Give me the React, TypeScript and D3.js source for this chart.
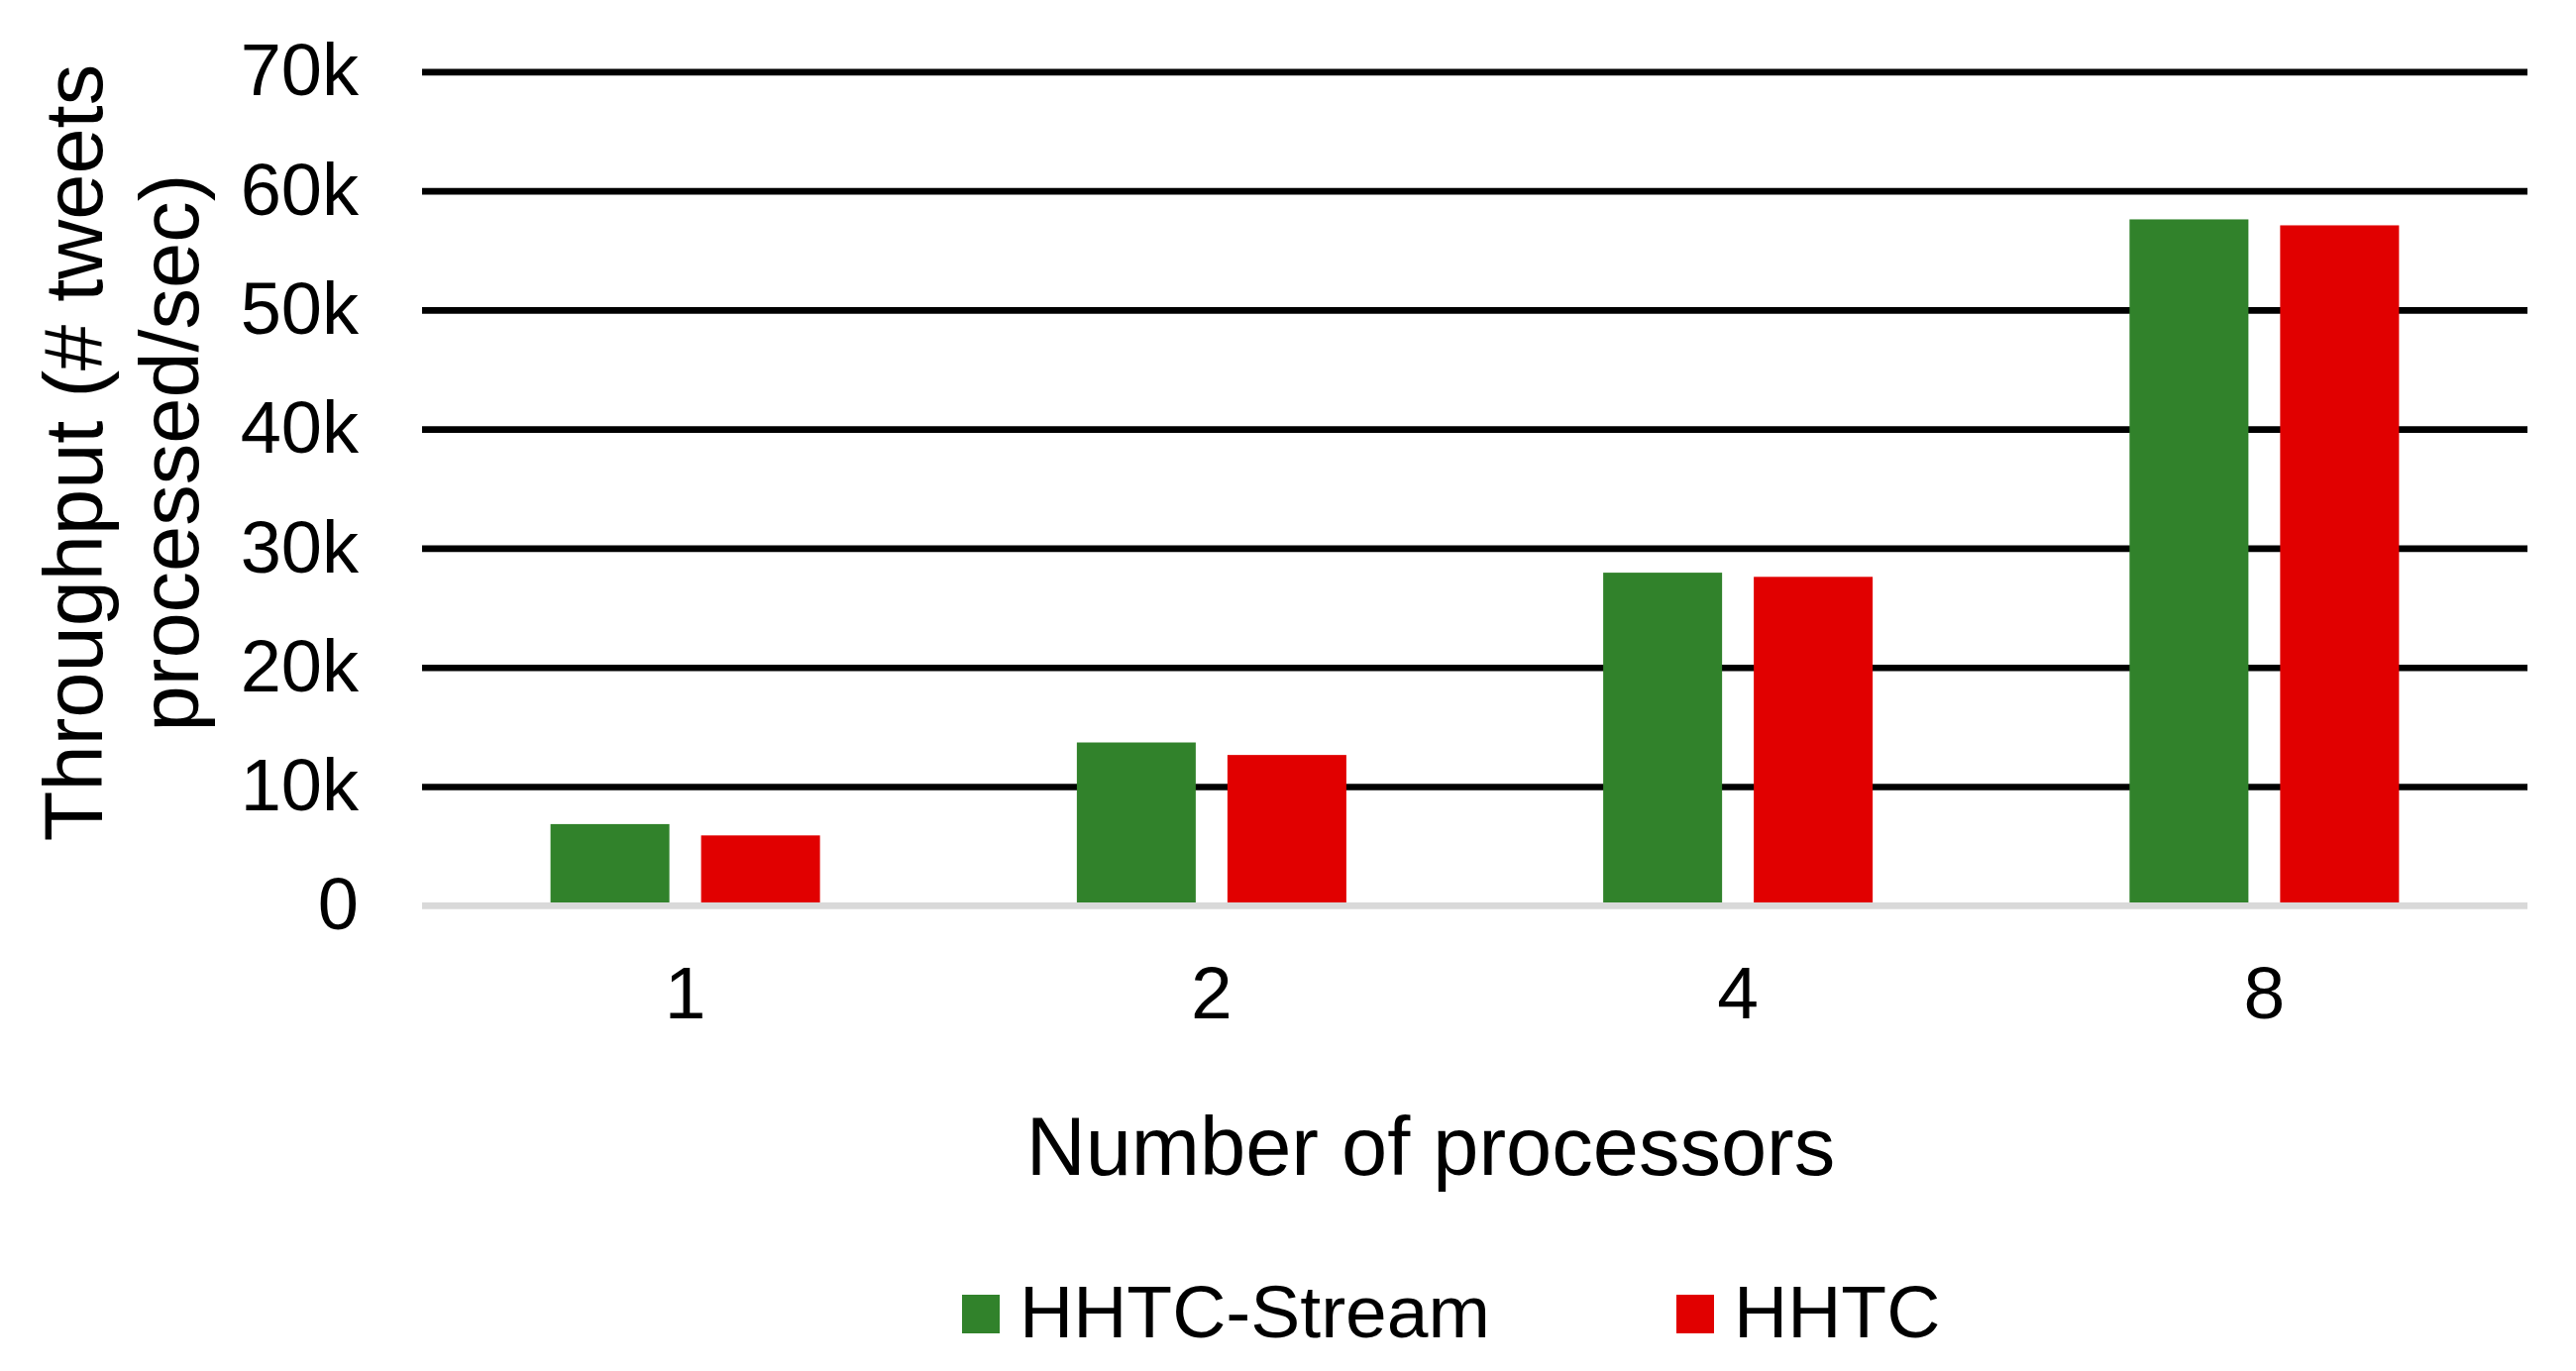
import React, { useEffect, useRef } from 'react';
import * as d3 from 'd3';

const categories = ["1", "2", "4", "8"];
const seriesNames = ["HHTC-Stream", "HHTC"];
const streamValues = [6850, 13700, 27950, 57600];
const hhtcValues = [5900, 12650, 27600, 57100];
const yTicks = [0, 10000, 20000, 30000, 40000, 50000, 60000, 70000];
const colors = ["#31822b", "#e10000"];

export default function App() {
  const svgRef = useRef<SVGSVGElement>(null);

  useEffect(() => {
    if (!svgRef.current) return;
    const width = 2600;
    const height = 1384;
    const margin = { left: 426, right: 49, top: 72.3, bottom: 469.7 };
    const font = "'Liberation Sans', Arial, sans-serif";

    const svg = d3.select(svgRef.current);
    svg.selectAll("*").remove();
    svg.attr("viewBox", [0, 0, width, height]).style("font-family", font);

    const innerW = width - margin.left - margin.right;
    const innerH = height - margin.top - margin.bottom;

    const x0 = d3.scaleBand<string>().domain(categories).range([0, innerW]).padding(0);
    const pairW = 272 / 531.25 * x0.bandwidth();
    const x1 = d3.scaleBand<string>().domain(seriesNames).range([0, pairW]).paddingInner(32 / 152);
    const y = d3.scaleLinear().domain([0, 70000]).range([innerH, 0]);

    const g = svg.append("g").attr("transform", `translate(${margin.left},${margin.top})`);

    // gridlines + tick labels
    const yAxis = g.append("g")
      .call(d3.axisLeft(y)
        .tickValues(yTicks)
        .tickSize(-innerW)
        .tickPadding(64)
        .tickFormat((d: any) => d === 0 ? "0" : `${d / 1000}k`));
    yAxis.select(".domain").remove();
    yAxis.selectAll(".tick line")
      .attr("stroke", "#000")
      .attr("stroke-width", 6.7)
      .attr("opacity", (d: any) => d === 0 ? 0 : 1);
    yAxis.selectAll(".tick text")
      .attr("fill", "#000")
      .attr("font-size", 74)
      .attr("font-family", font);

    // bars
    const rows = categories.map((c, i) => ({ cat: c, vals: [streamValues[i], hhtcValues[i]] }));
    const groups = g.selectAll("g.grp")
      .data(rows)
      .enter()
      .append("g")
      .attr("class", "grp")
      .attr("transform", (d) => `translate(${(x0(d.cat) || 0) + (x0.bandwidth() - pairW) / 2},0)`);

    groups.selectAll("rect")
      .data((d) => d.vals.map((v, j) => ({ name: seriesNames[j], v, j })))
      .enter()
      .append("rect")
      .attr("x", (d) => x1(d.name) || 0)
      .attr("width", x1.bandwidth())
      .attr("y", (d) => y(d.v))
      .attr("height", (d) => innerH - y(d.v))
      .attr("fill", (d) => colors[d.j]);

    // baseline on top of bars
    g.append("line")
      .attr("x1", 0)
      .attr("x2", innerW)
      .attr("y1", y(0))
      .attr("y2", y(0))
      .attr("stroke", "#d9d9d9")
      .attr("stroke-width", 6.7);

    // category axis
    const xAxis = g.append("g")
      .attr("transform", `translate(0,${innerH})`)
      .call(d3.axisBottom(x0).tickSize(0).tickPadding(60.5));
    xAxis.select(".domain").remove();
    xAxis.selectAll(".tick text")
      .attr("fill", "#000")
      .attr("font-size", 75)
      .attr("font-family", font);

    // axis titles
    svg.append("text")
      .attr("x", 1444)
      .attr("y", 1186)
      .attr("text-anchor", "middle")
      .attr("font-size", 83)
      .attr("fill", "#000")
      .text("Number of processors");

    const yTitle = svg.append("text")
      .attr("transform", "translate(0,457) rotate(-90)")
      .attr("text-anchor", "middle")
      .attr("font-size", 83)
      .attr("fill", "#000");
    yTitle.append("tspan").attr("x", 0).attr("y", 103).text("Throughput (# tweets");
    yTitle.append("tspan").attr("x", 0).attr("y", 200).text("processed/sec)");

    // legend
    const legendX = [971, 1692];
    const legend = svg.selectAll("g.leg")
      .data(seriesNames)
      .enter()
      .append("g")
      .attr("class", "leg")
      .attr("transform", (d, i) => `translate(${legendX[i]},0)`);
    legend.append("rect")
      .attr("x", 0)
      .attr("y", 1307)
      .attr("width", 38)
      .attr("height", 39)
      .attr("fill", (d, i) => colors[i]);
    legend.append("text")
      .attr("x", 58)
      .attr("y", 1350)
      .attr("font-size", 75)
      .attr("fill", "#000")
      .text((d) => d);
  }, []);

  return (
    <div style={{ position: 'fixed', left: 0, top: 0, width: 2600, height: 1384, background: '#fff' }}>
      <svg ref={svgRef} width={2600} height={1384} style={{ display: 'block' }} />
    </div>
  );
}
